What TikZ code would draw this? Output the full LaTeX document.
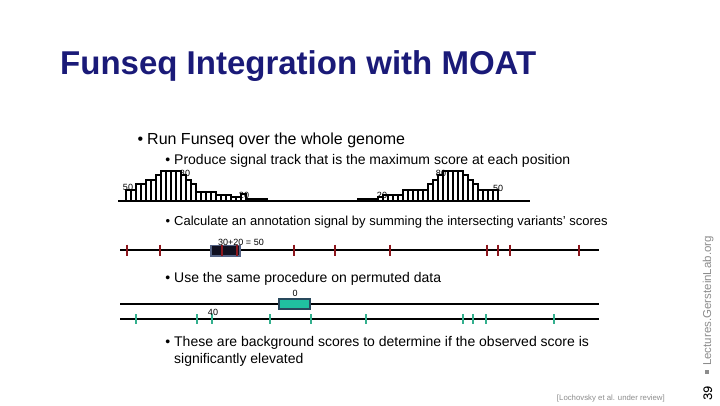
\documentclass[tikz,border=0pt]{standalone}
\usepackage{fontspec}
\setmainfont{Liberation Sans}
\usepackage{tikz}
\usetikzlibrary{positioning, calc}
\definecolor{azulTitulo}{RGB}{26, 26, 120}
\definecolor{rojoVar}{RGB}{140, 22, 28}
\definecolor{verdePerm}{RGB}{52, 176, 142}
\definecolor{cajaVerde}{RGB}{32, 192, 160}
\definecolor{bordeVerde}{RGB}{40, 72, 92}
\definecolor{cajaOscura}{RGB}{16, 16, 32}
\definecolor{bordeOscuro}{RGB}{84, 98, 132}
\definecolor{grisPie}{RGB}{140, 140, 140}

\tikzset{
  barra/.style={fill=white, draw=black, line width=1.2pt},
  pista/.style={line width=2.4pt, black},
  marcaRoja/.style={line width=2.4pt, rojoVar},
  marcaVerde/.style={line width=2.4pt, verdePerm},
  texto/.style={anchor=base west, inner sep=0pt, font=\fontsize{14}{17}\selectfont},
  etiqueta/.style={inner sep=0pt, font=\fontsize{9}{11}\selectfont},
}
\newcommand{\vineta}{\llap{\textbullet\hspace{4pt}}}

\begin{document}
\begin{tikzpicture}[x=1pt, y=-1pt]
  \useasboundingbox (0,0) rectangle (720,405);

  % Titulo
  \node[anchor=base west, inner sep=0pt, font=\fontsize{33}{38}\selectfont\bfseries, text=azulTitulo]
    (titulo) at (60,74) {Funseq Integration with MOAT};

  % Primer nivel
  \node[texto, font=\fontsize{16}{19}\selectfont] (run) at (147,144) {\vineta Run Funseq over the whole genome};
  \node[texto] (produce) at (174,164) {\vineta Produce signal track that is the maximum score at each position};

  % Barras verticales simuladas (izquierda y derecha)
  \foreach \h [count=\i from 0] in {11,11,17,17,21,21,26,30,30,30,30,26,21,17,9,9,9,9,6,6,6,4,4,7}
    \filldraw[barra] ({126+5*\i},201) rectangle ++(5,-\h);
  \foreach \h [count=\i from 0] in {4,6,6,6,6,11,11,11,11,11,17,21,26,30,30,30,30,26,21,17,11,11,11,11}
    \filldraw[barra] ({378+5*\i},201) rectangle ++(5,-\h);
  \fill (246,202) rectangle (268,198);
  \fill (357,202) rectangle (378,198);
  \draw[pista] (118,201) -- (530,201);

  \node[etiqueta] (s50a) at (128,187) {50};
  \node[etiqueta] (s80a) at (185,173) {80};
  \node[etiqueta] (s20a) at (244,195) {20};
  \node[etiqueta] (s20b) at (382,195) {20};
  \node[etiqueta] (s80b) at (441,173) {80};
  \node[etiqueta] (s50b) at (498,188) {50};

  % Senal de anotacion
  \node[texto, font=\fontsize{13}{16}\selectfont] (calc) at (174,225) {\vineta Calculate an annotation signal by summing the intersecting variants' scores};
  \draw[pista] (120,250) -- (599,250);
  \filldraw[fill=cajaOscura, draw=bordeOscuro, line width=1.5pt] (211,245.5) rectangle (240,256);
  \foreach \x in {127,160,222,237,294,335,390,487,498,510,579}
    \draw[marcaRoja] (\x,244.5) -- (\x,256);
  \node[etiqueta] (suma) at (241,242) {30+20 = 50};

  % Datos permutados
  \node[texto] (perm) at (174,282) {\vineta Use the same procedure on permuted data};
  \draw[pista] (120,304) -- (599,304);
  \filldraw[fill=cajaVerde, draw=bordeVerde, line width=1.5pt] (279,299) rectangle (310,309);
  \node[etiqueta] (cero) at (295,293) {0};
  \draw[pista] (120,319) -- (599,319);
  \foreach \x in {136,197,212,270,311,366,463,473,486,554}
    \draw[marcaVerde] (\x,314) -- (\x,324);
  \node[etiqueta] (cuarenta) at (213,312) {40};

  % Conclusion
  \node[texto] (fondo) at (174,346)
    {\vineta These are background scores to determine if the observed score is};
  \node[texto] (fondo2) at (174,363) {significantly elevated};

  % Pie
  \node[anchor=base east, inner sep=0pt, font=\fontsize{7.8}{9}\selectfont, text=grisPie] (cita) at (665,400)
    {[Lochovsky et al. under review]};
  \node[rotate=90, anchor=base west, inner sep=0pt, font=\fontsize{11.5}{13}\selectfont, text=grisPie] (sitio) at (711,366)
    {Lectures.GersteinLab.org};
  \fill[grisPie] (705,370) rectangle (709,374);
  \node[rotate=90, anchor=base west, inner sep=0pt, font=\fontsize{14}{16}\ttfamily\bfseries] (pagina) at (712,401) {39};
\end{tikzpicture}
\end{document}
